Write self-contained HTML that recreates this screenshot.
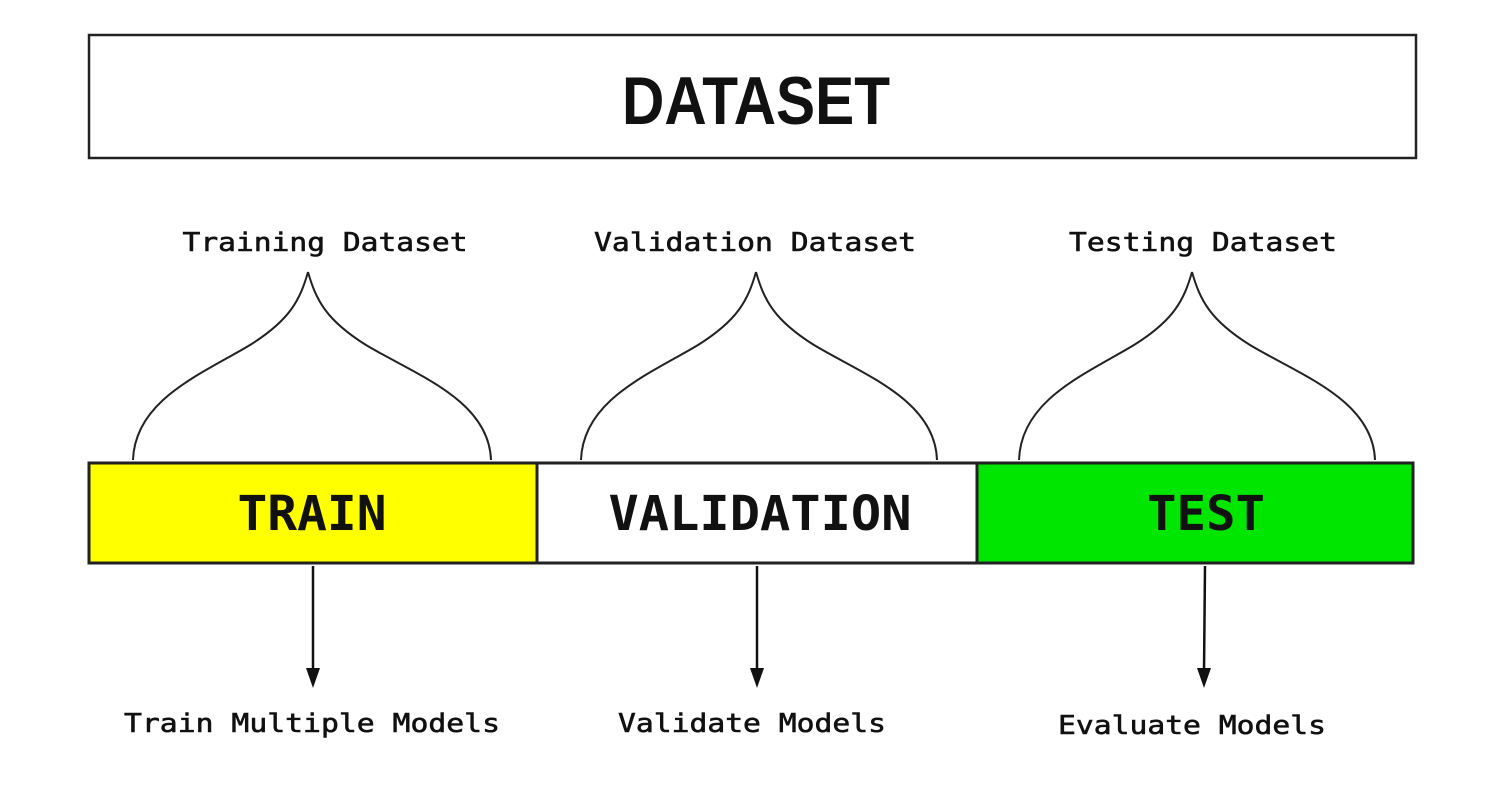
<!DOCTYPE html>
<html><head><style>html,body{margin:0;padding:0;background:#fff}</style></head>
<body>
<svg width="1503" height="781" viewBox="0 0 1503 781" xmlns="http://www.w3.org/2000/svg">
<rect x="89" y="35" width="1327" height="123" fill="#fff" stroke="#222" stroke-width="2.5"/>
<text x="756" y="124" text-anchor="middle" font-family="Liberation Sans, sans-serif" font-weight="bold" font-size="68" textLength="268" lengthAdjust="spacingAndGlyphs" fill="#111">DATASET</text>
<g font-family="DejaVu Sans Mono, monospace" font-size="26" fill="#111" stroke="#111" stroke-width="0.6" text-anchor="middle">
<text x="325" y="251" textLength="285" lengthAdjust="spacingAndGlyphs">Training Dataset</text>
<text x="755" y="251" textLength="322" lengthAdjust="spacingAndGlyphs">Validation Dataset</text>
<text x="1203" y="251" textLength="268" lengthAdjust="spacingAndGlyphs">Testing Dataset</text>
<text x="312" y="732" textLength="376" lengthAdjust="spacingAndGlyphs">Train Multiple Models</text>
<text x="752" y="732" textLength="268" lengthAdjust="spacingAndGlyphs">Validate Models</text>
<text x="1192" y="734" textLength="268" lengthAdjust="spacingAndGlyphs">Evaluate Models</text>
</g>
<g fill="none" stroke="#222" stroke-width="2">
<path d="M308 272 C300 300 290 320 250 345 C200 375 135 400 133 460 M308 272 C316 300 326 320 366 345 C416 375 489 400 491 460"/>
<path d="M756 272 C748 300 738 320 698 345 C648 375 583 400 581 460 M756 272 C764 300 774 320 814 345 C864 375 935 400 937 460"/>
<path d="M1192 272 C1184 300 1174 320 1134 345 C1084 375 1021 400 1019 460 M1192 272 C1200 300 1210 320 1250 345 C1300 375 1373 400 1375 460"/>
</g>
<rect x="89" y="463" width="448" height="100" fill="#ffff00" stroke="#222" stroke-width="3"/>
<rect x="537" y="463" width="440" height="100" fill="#fff" stroke="#222" stroke-width="3"/>
<rect x="977" y="463" width="436" height="100" fill="#00e600" stroke="#222" stroke-width="3"/>
<g font-family="DejaVu Sans Mono, monospace" font-weight="bold" font-size="48" fill="#111" text-anchor="middle">
<text x="312" y="530" textLength="149" lengthAdjust="spacingAndGlyphs">TRAIN</text>
<text x="760" y="530" textLength="303" lengthAdjust="spacingAndGlyphs">VALIDATION</text>
<text x="1206" y="530" textLength="118" lengthAdjust="spacingAndGlyphs">TEST</text>
</g>
<g stroke="#111" stroke-width="2.5">
<line x1="313" y1="566" x2="313" y2="672"/>
<line x1="757" y1="566" x2="757" y2="672"/>
<line x1="1205" y1="566" x2="1204" y2="672"/>
</g>
<g fill="#111">
<polygon points="306,668 320,668 313,688"/>
<polygon points="750,668 764,668 757,688"/>
<polygon points="1197,668 1211,668 1204,688"/>
</g>
</svg>
</body></html>
